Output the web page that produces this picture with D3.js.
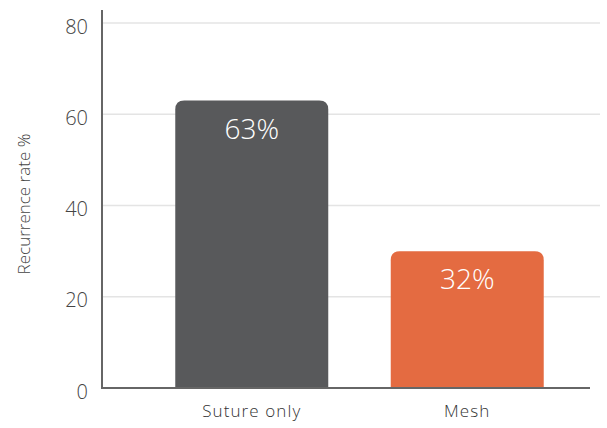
<!DOCTYPE html>
<html>
<head>
<meta charset="utf-8">
<script src="https://cdn.jsdelivr.net/npm/d3@7"></script>
<style>
  body { margin: 0; background: #fff; }
  text { font-family: "Open Sans", "Noto Sans", sans-serif; }
</style>
</head>
<body>
<svg id="chart" width="607" height="428"></svg>
<script>
// chart data
const categories = ["Suture only", "Mesh"];
const barValues = [63, 30];
const barLabels = ["63%", "32%"];
const barColors = ["#58595b", "#e46b41"];
const yTicks = [0, 20, 40, 60, 80];
const yTitle = "Recurrence rate %";

var svg = d3.select("#chart");
const width = +svg.attr("width");
const height = +svg.attr("height");

// plot area edges
const plotLeft = 102;
const plotRight = 600;
const plotTop = 23;
const plotBottom = 388;

var x = d3.scaleBand()
    .domain(categories)
    .range([plotLeft, 617])
    .paddingInner(0.29)
    .paddingOuter(0.34);

var y = d3.scaleLinear()
    .domain([0, 80])
    .range([plotBottom, plotTop]);

//gridlines
svg.append("g")
    .selectAll("line")
    .data(yTicks.filter(d => d > 0))
    .enter()
    .append("line")
    .attr("x1", plotLeft)
    .attr("x2", plotRight)
    .attr("y1", d => y(d))
    .attr("y2", d => y(d))
    .style("stroke", "#e4e4e4")
    .style("stroke-width", 1.5);

// bars with rounded top corners only
const r = 9;
const barPath = (x0, w, y0, y1) => {
    return "M" + x0 + "," + y1 +
        "V" + (y0 + r) +
        "Q" + x0 + "," + y0 + " " + (x0 + r) + "," + y0 +
        "H" + (x0 + w - r) +
        "Q" + (x0 + w) + "," + y0 + " " + (x0 + w) + "," + (y0 + r) +
        "V" + y1 + "Z";
};

svg.append("g")
    .selectAll("path")
    .data(categories)
    .enter()
    .append("path")
    .attr("d", (d, i) => barPath(x(d), x.bandwidth(), y(barValues[i]), y(0)))
    .style("fill", (d, i) => barColors[i]);

// value labels inside bars
svg.append("g")
    .selectAll("text")
    .data(categories)
    .enter()
    .append("text")
    .attr("x", d => x(d) + x.bandwidth() / 2)
    .attr("y", (d, i) => y(barValues[i]) + 38)
    .attr("text-anchor", "middle")
    .style("font-size", "28px")
    .style("font-weight", 300)
    .style("fill", "#fff")
    .text((d, i) => barLabels[i]);

// y axis
var leftAxis = d3.axisLeft(y).tickValues(yTicks).tickSize(0).tickPadding(14);
var yAxisG = svg.append("g")
    .attr("transform", "translate(" + plotLeft + ",0)")
    .call(leftAxis);
yAxisG.select(".domain").remove();
yAxisG.selectAll("text")
    .attr("dy", "0.5em")
    .style("font-size", "20px")
    .style("font-weight", 300)
    .style("fill", "#444")
    .style("font-family", "'Open Sans', sans-serif");

// axis lines
svg.append("line")
    .attr("x1", plotLeft).attr("x2", plotLeft)
    .attr("y1", 10).attr("y2", plotBottom)
    .style("stroke", "#666")
    .style("stroke-width", 2);
svg.append("line")
    .attr("x1", plotLeft - 1).attr("x2", 590)
    .attr("y1", plotBottom).attr("y2", plotBottom)
    .style("stroke", "#666")
    .style("stroke-width", 2);

// x axis labels
var bottomAxis = d3.axisBottom(x).tickSize(0).tickPadding(17);
var xAxisG = svg.append("g")
    .attr("transform", "translate(0," + plotBottom + ")")
    .call(bottomAxis);
xAxisG.select(".domain").remove();
xAxisG.selectAll("text")
    .style("font-size", "17px")
    .style("letter-spacing", "1.1px")
    .style("font-weight", 300)
    .style("fill", "#333")
    .style("font-family", "'Open Sans', sans-serif");

// y axis title, rotated
svg.append("text")
    .attr("transform", "translate(30," + 204 + ")rotate(-90)")
    .attr("text-anchor", "middle")
    .style("font-size", "17px")
    .style("font-weight", 300)
    .style("fill", "#444")
    .text(yTitle);
</script>
</body>
</html>
